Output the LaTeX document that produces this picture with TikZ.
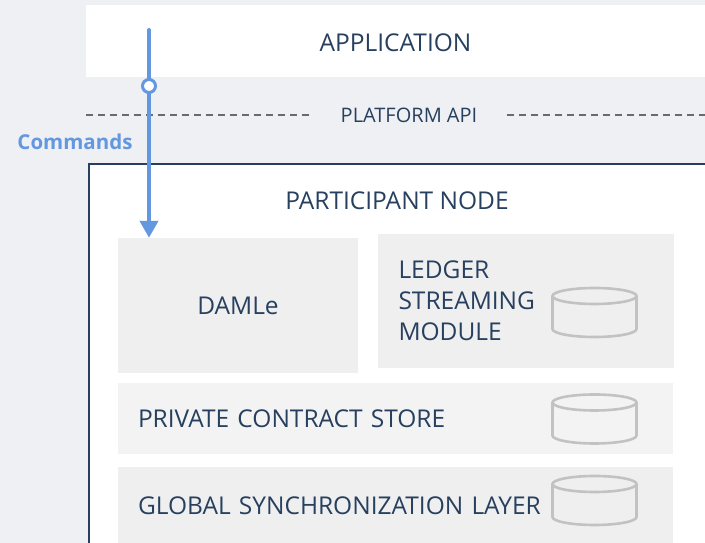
\documentclass[tikz,border=0pt]{standalone}
\usepackage{fontspec}
\setmainfont{Open Sans}
\usetikzlibrary{arrows.meta,positioning}
\definecolor{bggray}{HTML}{EEF0F3}
\definecolor{navy}{HTML}{27405F}
\definecolor{boxgray}{HTML}{EFEFEF}
\definecolor{storegray}{HTML}{F3F3F3}
\definecolor{cylgray}{HTML}{C2C2C2}
\definecolor{cmdblue}{HTML}{6397DF}
\definecolor{dashgray}{HTML}{6A6A6A}

\tikzset{
    layer/.style={fill=boxgray, inner sep=0pt, text=navy, font=\fontsize{24.5}{31}\selectfont},
    title/.style={text=navy, inner sep=0pt, font=\fontsize{24.5}{28}\selectfont},
    dbline/.style={draw=cylgray, line width=2.6pt},
    db/.pic={
        \draw[dbline] (-42,17) -- (-42,-16) arc[start angle=180, end angle=360, x radius=42, y radius=8] -- (42,17);
        \draw[dbline] (0,17) ellipse[x radius=42, y radius=8];
    }
}

\begin{document}
\begin{tikzpicture}[x=1pt, y=1pt]
    \useasboundingbox[fill=bggray] (0,0) rectangle (705,543);
    \node[fill=white, minimum width=619, minimum height=72, inner sep=0pt] (app) at (395.5,502) {};
    \node[title] (apptitle) at (395.5,500) {APPLICATION};

    \node[title, font=\fontsize{20}{24}\selectfont] (api) at (409,428) {PLATFORM API};
    \draw[dashgray, line width=1.3pt, dash pattern=on 7pt off 5pt] (86,428) -- ([xshift=-30pt]api.west);
    \draw[dashgray, line width=1.3pt, dash pattern=on 7pt off 5pt] ([xshift=30pt]api.east) -- (705,428);

    \node[draw=navy, line width=2pt, fill=white, minimum width=630, minimum height=400, inner sep=0pt, anchor=north west] (pn) at (88,380) {};
    \node[title] (pntitle) at (397,342) {PARTICIPANT NODE};

    \node[layer, minimum width=240, minimum height=135] (damle) at (238,237.5) {DAMLe};
    \node[layer, minimum width=295, minimum height=134, align=left, text width=254, inner xsep=21pt] (ledger) at (525.5,242) {LEDGER\\STREAMING\\MODULE};
    \node[layer, fill=storegray, minimum width=555, minimum height=71, text width=515, align=left, inner xsep=20pt] (store) at (395.5,124.5) {PRIVATE CONTRACT STORE};
    \node[layer, minimum width=555, minimum height=78, text width=515, align=left, inner xsep=20pt] (sync) at (395.5,37) {GLOBAL SYNCHRONIZATION LAYER};

    \pic at (594.5,230) {db};
    \pic at (594.5,123.5) {db};
    \pic at (594.5,42) {db};

    % commands from the application
    \coordinate (cmdtop) at (149,513);
    \draw[cmdblue, line width=4pt, line cap=round, -{Triangle[length=17pt, width=18pt]}] (cmdtop) -- (cmdtop |- damle.north);
    \node[circle, draw=cmdblue, line width=3pt, fill=white, minimum size=13pt, inner sep=0pt] (port) at (149,457) {};
    \node[text=cmdblue, font=\bfseries\fontsize{20.5}{24}\selectfont] (cmd) at (75,401) {Commands};
\end{tikzpicture}
\end{document}
